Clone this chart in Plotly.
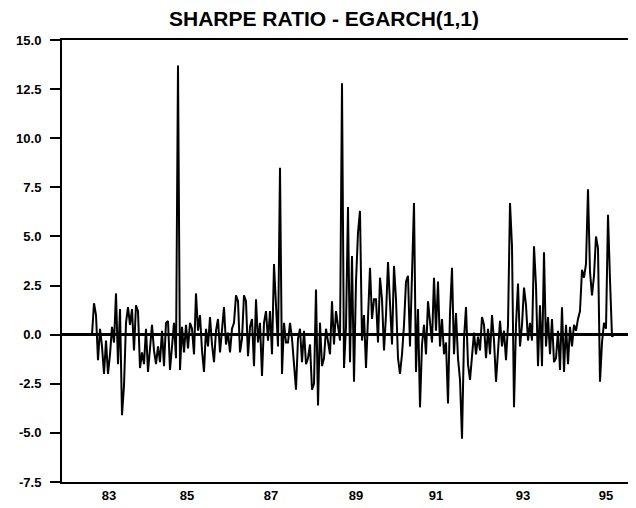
import plotly.graph_objects as go

# Sharpe ratio (EGARCH(1,1)), in time order
sharpe = [
    0.0, 1.6, 1.0, -1.3, 0.3, -0.6, -2.0, -0.3, -2.0, -1.0,
    0.4, -0.4, 2.1, -1.5, 1.3, -4.1, -2.6, 0.6, 1.4, 0.5,
    1.3, -0.8, 1.5, 1.2, -1.7, -0.9, -1.5, 0.3, -1.9, -0.6,
    0.5, -0.8, -1.5, -0.6, -1.4, 0.2, -1.6, 0.6, 0.7, -1.8,
    -0.4, 0.6, -1.2, 13.7, -1.8, 0.4, -0.9, 0.5, -0.7, 0.6,
    0.3, -1.0, 2.1, 0.2, 1.0, -0.8, -1.9, 0.3, -0.6, 0.9,
    -0.5, -1.4, 0.2, 0.8, -0.9, 0.3, 1.4, -0.5, 0.1, -0.9,
    0.3, 0.6, 2.0, 1.7, -0.9, -0.2, 2.0, 1.7, -1.1, 0.4,
    0.8, -1.6, 1.8, -0.4, 0.6, -2.1, 0.6, 1.2, -0.3, 1.2,
    -1.0, 3.6, 1.8, -0.6, 8.5, -2.0, 0.6, -0.4, -0.4, 0.6,
    -0.2, -1.4, -2.8, -0.2, 0.3, -1.4, 0.2, -1.5, -1.2, -0.5,
    -2.8, -2.5, 2.3, -3.6, 0.6, -1.6, -1.2, 0.3, -0.5, -1.0,
    1.7, -0.5, 1.2, 0.5, -0.3, 12.8, -1.7, 0.4, 6.5, -1.4,
    4.0, -2.4, 2.7, 5.2, 6.3, -0.3, 1.0, -1.7, 0.5, 3.4,
    0.8, 1.8, 1.8, -0.4, 2.9, 1.8, -0.8, 1.0, 3.7, 1.9,
    -0.5, 3.5, 1.8, -1.2, -2.0, -1.0, 0.5, 2.7, 3.0, -0.6,
    3.3, 6.7, -1.9, 1.3, -3.7, -0.5, 0.5, -1.0, 1.7, 0.6,
    -0.4, 2.9, 0.2, 2.7, -0.6, 0.8, -1.0, -0.4, -3.5, 1.1,
    3.4, -1.0, 1.1, -1.2, -2.3, -5.3, -0.2, 1.4, -1.5, -2.3,
    -1.2, 0.1, -1.0, -0.1, -0.8, 0.9, 0.5, -1.2, 0.3, -1.0,
    1.0, -0.3, -2.4, -0.6, 0.7, -0.6, 0.2, -1.3, 0.5, 6.7,
    4.5, -3.7, 0.5, 2.6, -0.6, 0.5, 2.4, 1.5, -0.3, 0.6,
    -0.3, 4.5, 2.5, -1.6, 1.5, -1.6, 4.2, -0.6, 0.9, -1.0,
    0.8, -1.4, -1.2, 0.2, -1.8, 1.4, -1.9, 0.5, -1.5, 0.4,
    -0.6, 0.5, 0.2, 0.8, 1.2, 3.3, 2.9, 3.6, 7.4, 3.2,
    2.0, 3.0, 5.0, 4.4, -2.4, -0.4, 0.6, 0.3, 6.1, 2.8,
    -0.1, 0.0,
]
obs = list(range(len(sharpe)))

year_labels = ["83", "85", "87", "89", "91", "93", "95"]
year_obs = [8.5, 47.5, 89.5, 132, 172, 215.5, 257]

y_ticks = [15.0, 12.5, 10.0, 7.5, 5.0, 2.5, 0.0, -2.5, -5.0, -7.5]

fig = go.Figure()
fig.add_trace(go.Scatter(
    x=obs, y=sharpe, mode="lines",
    line=dict(color="black", width=2),
    showlegend=False, hoverinfo="skip",
))

W, H = 628, 500
fig.update_layout(
    width=W, height=H,
    margin=dict(l=54, r=0, t=32, b=26),
    paper_bgcolor="white", plot_bgcolor="white",
    title=dict(
        text="SHARPE RATIO - EGARCH(1,1)",
        x=316 / W, xref="container", xanchor="center",
        y=1 - 11 / H, yref="container", yanchor="middle",
        font=dict(family="Liberation Sans, Arial", size=21, color="black", weight="bold"),
    ),
    font=dict(family="Liberation Sans, Arial", color="black"),
)

fig.update_xaxes(
    range=[-15, 272],
    tickvals=year_obs, ticktext=year_labels,
    ticks="", showgrid=False, zeroline=False,
    showline=True, linecolor="black", linewidth=2, mirror=True,
    tickfont=dict(size=13, weight="bold", color="black"),
)
fig.update_yaxes(
    range=[-7.5, 15],
    tickvals=y_ticks, ticktext=[f"{v:.1f}" for v in y_ticks],
    ticks="outside", ticklen=10, tickwidth=1.5, tickcolor="black",
    ticklabelstandoff=6,
    showgrid=False,
    zeroline=True, zerolinecolor="black", zerolinewidth=2.5,
    showline=True, linecolor="black", linewidth=2, mirror=False,
    tickfont=dict(size=13, weight="bold", color="black"),
)

fig.write_html("out.html")
